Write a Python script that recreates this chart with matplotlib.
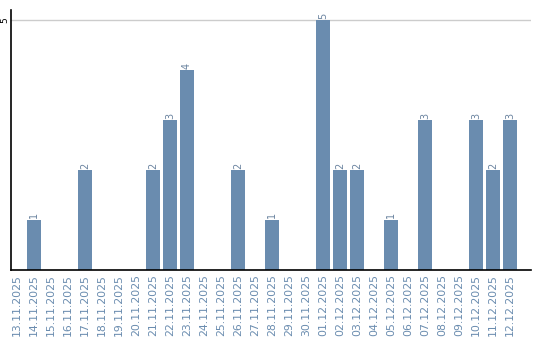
import matplotlib.pyplot as plt

dates = ['13.11.2025', '14.11.2025', '15.11.2025', '16.11.2025', '17.11.2025',
         '18.11.2025', '19.11.2025', '20.11.2025', '21.11.2025', '22.11.2025',
         '23.11.2025', '24.11.2025', '25.11.2025', '26.11.2025', '27.11.2025',
         '28.11.2025', '29.11.2025', '30.11.2025', '01.12.2025', '02.12.2025',
         '03.12.2025', '04.12.2025', '05.12.2025', '06.12.2025', '07.12.2025',
         '08.12.2025', '09.12.2025', '10.12.2025', '11.12.2025', '12.12.2025']
counts = [0, 1, 0, 0, 2, 0, 0, 0, 2, 3,
          4, 0, 0, 2, 0, 1, 0, 0, 5, 2,
          2, 0, 1, 0, 3, 0, 0, 3, 2, 3]

BAR_COLOR = '#6a8caf'
LABEL_COLOR = '#6b84a0'

fig = plt.figure(figsize=(5.4, 3.4), dpi=100)
ax = fig.add_axes([11 / 540, 70 / 340, 520 / 540, 260 / 340])

x = list(range(len(dates)))
ax.bar(x, counts, width=0.82, color=BAR_COLOR, zorder=2)

# value labels above bars (only non-zero)
for xi, c in zip(x, counts):
    if c > 0:
        ax.text(xi, c + 0.03, str(c), rotation=90, ha='center', va='bottom',
                fontsize=7, color=LABEL_COLOR)

ax.set_xlim(-0.35, len(dates) - 1 + 1.24)
ax.set_ylim(0, 5.2)
ax.set_yticks([5])
ax.set_yticklabels(['5'], rotation=90, va='center', fontsize=6.5)
ax.set_xticks(x)
ax.set_xticklabels(dates, rotation=90, fontsize=7.8, color=BAR_COLOR)
ax.tick_params(axis='x', length=0, pad=3)
ax.tick_params(axis='y', length=0, pad=1)
ax.yaxis.grid(True, color='#cccccc', linewidth=1, zorder=0)

ax.spines['top'].set_visible(False)
ax.spines['right'].set_visible(False)
ax.spines['left'].set_linewidth(1.2)
ax.spines['bottom'].set_linewidth(1.2)

fig.savefig('out.png', dpi=100)
